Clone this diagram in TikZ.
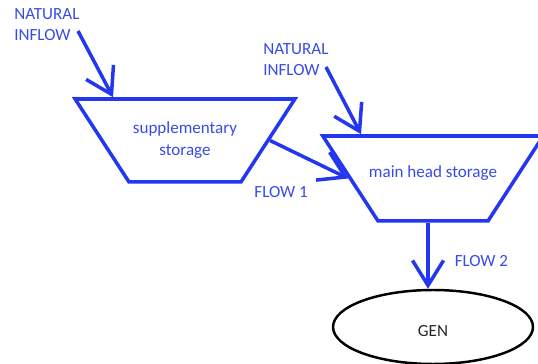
\documentclass[tikz,border=0pt]{standalone}
\usepackage{fontspec}
\setmainfont{Carlito}
\usetikzlibrary{shapes.geometric,arrows.meta,positioning}
\definecolor{flowblue}{RGB}{35,55,240}
\definecolor{labelblue}{RGB}{55,75,230}
% body of a storage basin: fixed height and bottom width, text centred
\newcommand{\tankbody}[3]{\parbox[c][#1][c]{#2}{\centering #3}}

\begin{document}
\begin{tikzpicture}[
    x=0.02cm, y=-0.02cm,
    storage/.style={trapezium, shape border rotate=180, trapezium left angle=57, trapezium right angle=57, draw=flowblue, line width=2pt, text=labelblue, inner sep=0pt, font=\fontsize{9.7}{12.5}\selectfont},
    genbox/.style={ellipse, draw=black, line width=1.4pt, text=black!85, minimum width=4cm, minimum height=1.48cm, font=\fontsize{9.7}{12}\selectfont},
    flowlabel/.style={text=labelblue, align=left, inner sep=0pt, font=\fontsize{9.7}{12}\selectfont},
    flow/.style={draw=flowblue, line width=2pt, -{Straight Barb[length=0.5cm, width=0.62cm]}}
]
\useasboundingbox (0,0) rectangle (538,364);

\node[storage] (supp) at (185,140.5) {\tankbody{1.66cm}{2.24cm}{supplementary\\storage}};
\node[storage] (main) at (433,178.5) {\tankbody{1.7cm}{2.2cm}{\makebox[2.2cm]{\raisebox{0.1cm}[\height][\depth]{main head storage}}}};
\node[genbox] (gen) at (433,327) {\raisebox{-0.08cm}[\height][\depth]{GEN}};

\node[flowlabel, anchor=north west] (nat1) at (14,8) {NATURAL\\INFLOW};
\node[flowlabel, anchor=north west] (nat2) at (263,43) {NATURAL\\INFLOW};

\coordinate (in1) at (78,31);
\coordinate (in2) at (326,67);

\draw[flow] (in1) -- ([xshift=-1.44cm]supp.north);
\draw[flow] (in2) -- ([xshift=-1.44cm]main.north);
\draw[flow] (supp.east) -- (main.west) node[pos=0.85, below left=0.24cm and 0.54cm, flowlabel] {FLOW 1};
\draw[flow] ([xshift=-0.1cm]main.south) -- ([xshift=-0.1cm]main.south |- gen.north) node[midway, right=0.5cm, yshift=-0.1cm, flowlabel] {FLOW 2};

\end{tikzpicture}
\end{document}
